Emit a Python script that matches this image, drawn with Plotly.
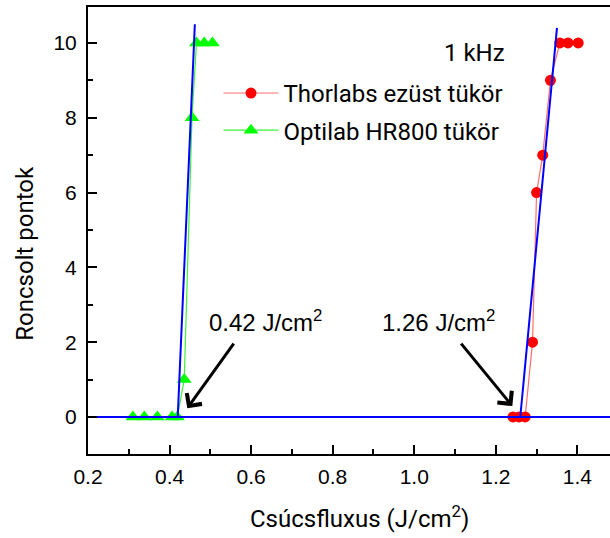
import plotly.graph_objects as go

# Damage test data at 1 kHz: peak fluence (J/cm^2) vs. number of damaged spots
thorlabs_x = [1.242, 1.257, 1.272, 1.290, 1.300, 1.315, 1.334, 1.357, 1.377, 1.402]
thorlabs_y = [0, 0, 0, 2, 6, 7, 9, 10, 10, 10]

optilab_x = [0.310, 0.338, 0.370, 0.406, 0.419, 0.436, 0.455, 0.466, 0.485, 0.505]
optilab_y = [0, 0, 0, 0, 0, 1, 8, 10, 10, 10]

# Linear fits extrapolated to zero damage -> damage thresholds
optilab_threshold = 0.42
thorlabs_threshold = 1.26
optilab_fit_x = [optilab_threshold, 0.462]
optilab_fit_y = [0, 10.5]
thorlabs_fit_x = [thorlabs_threshold, 1.350]
thorlabs_fit_y = [0, 10.4]

# Zero baseline
baseline_x = [0.2, 1.48]
baseline_y = [0, 0]

x_ticks = [0.2, 0.4, 0.6, 0.8, 1.0, 1.2, 1.4]
x_tick_labels = ["0.2", "0.4", "0.6", "0.8", "1.0", "1.2", "1.4"]
y_ticks = [0, 2, 4, 6, 8, 10]

LABEL_FONT = "Roboto"
TICK_FONT = "Liberation Sans"
BLUE = "rgb(0,0,255)"

fig = go.Figure()

fig.add_trace(go.Scatter(
    x=thorlabs_x, y=thorlabs_y, mode="lines+markers",
    name="Thorlabs ezüst tükör", legendgroup="a",
    line=dict(color="rgb(255,110,110)", width=1.2),
    marker=dict(symbol="circle", size=11, color="rgb(255,0,0)"),
))
fig.add_trace(go.Scatter(
    x=optilab_x, y=optilab_y, mode="lines+markers",
    name="Optilab HR800 tükör", legendgroup="b",
    line=dict(color="rgb(60,240,60)", width=1.2),
    marker=dict(symbol="triangle-up", size=13, color="rgb(0,255,0)"),
))

for fx, fy in [(optilab_fit_x, optilab_fit_y), (thorlabs_fit_x, thorlabs_fit_y), (baseline_x, baseline_y)]:
    fig.add_trace(go.Scatter(
        x=fx, y=fy, mode="lines", showlegend=False, hoverinfo="skip",
        line=dict(color=BLUE, width=2),
    ))

# Threshold labels with arrows
labels = [
    (optilab_threshold, 0.492, 0.560, 2.0, 0.4434, 0.23),
    (thorlabs_threshold, 0.916, 1.112, 2.0, 1.2405, 0.29),
]
for thr, tx, ax, ay, hx, hy in labels:
    fig.add_annotation(
        x=tx, y=2.57, xref="x", yref="y", xanchor="left", yanchor="middle",
        text=f"{thr:.2f} J/cm<sup>2</sup>", showarrow=False,
        font=dict(family=TICK_FONT, size=24, color="black"),
    )
    fig.add_annotation(
        x=hx, y=hy, ax=ax, ay=ay, xref="x", yref="y", axref="x", ayref="y",
        text="", showarrow=True, arrowhead=4, arrowsize=1.2, arrowwidth=3,
        arrowcolor="black", standoff=0,
    )

fig.add_annotation(
    x=0.679, y=0.898, xref="paper", yref="paper", xanchor="left", yanchor="middle",
    text="1 kHz", showarrow=False,
    font=dict(family=LABEL_FONT, size=24, color="black"),
)

# Axis titles
fig.add_annotation(
    x=0.521, y=-0.141, xref="paper", yref="paper", xanchor="center", yanchor="middle",
    text="Csúcsfluxus (J/cm<sup>2</sup>)", showarrow=False,
    font=dict(family=LABEL_FONT, size=24, color="black"),
)
fig.add_annotation(
    x=-0.121, y=0.45, xref="paper", yref="paper", xanchor="center", yanchor="middle",
    text="Roncsolt pontok", showarrow=False, textangle=-90,
    font=dict(family=LABEL_FONT, size=24, color="black"),
)

fig.update_layout(
    width=610, height=538,
    margin=dict(l=88, r=0, t=7, b=84),
    plot_bgcolor="white", paper_bgcolor="white",
    showlegend=True,
    legend=dict(
        x=0.25, y=0.857, xanchor="left", yanchor="top",
        bgcolor="rgba(0,0,0,0)", borderwidth=0,
        font=dict(family=LABEL_FONT, size=24, color="black"),
        itemwidth=55, traceorder="grouped", tracegroupgap=3,
    ),
)

fig.update_xaxes(
    range=[0.2, 1.48], tickvals=x_ticks, ticktext=x_tick_labels,
    showgrid=False, zeroline=False,
    showline=True, linecolor="black", linewidth=2, mirror=True,
    ticks="inside", ticklen=9, tickwidth=2, tickcolor="black",
    minor=dict(dtick=0.1, ticks="inside", ticklen=5, tickwidth=2, tickcolor="black", showgrid=False),
    tickfont=dict(family=TICK_FONT, size=21, color="black"),
    ticklabelstandoff=3,
)
fig.update_yaxes(
    range=[-0.99, 10.96], tickvals=y_ticks,
    showgrid=False, zeroline=False,
    showline=True, linecolor="black", linewidth=2, mirror=False,
    ticks="inside", ticklen=9, tickwidth=2, tickcolor="black",
    minor=dict(dtick=1, ticks="inside", ticklen=5, tickwidth=2, tickcolor="black", showgrid=False),
    tickfont=dict(family=TICK_FONT, size=21, color="black"),
    ticklabelstandoff=5,
)

fig.write_html("out.html")
